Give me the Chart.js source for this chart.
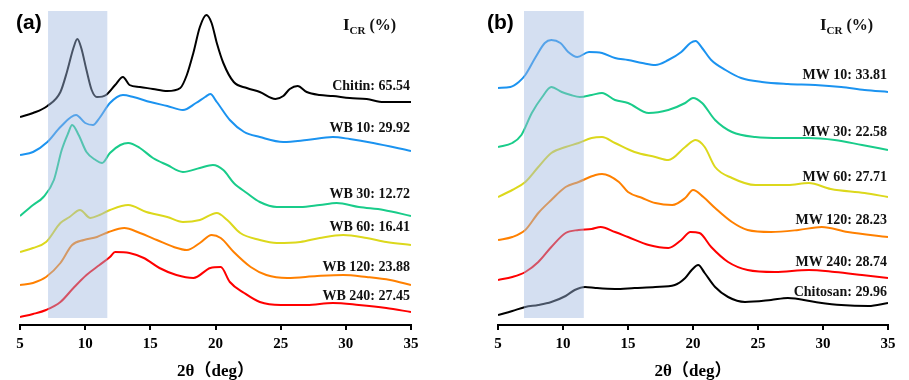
<!DOCTYPE html>
<html>
<head>
<meta charset="utf-8">
<script src="https://cdn.jsdelivr.net/npm/chart.js@4.4.1/dist/chart.umd.min.js"></script>
<style>
  body { margin: 0; background: #fff; }
  #wrap { position: relative; width: 909px; height: 380px; }
  canvas { position: absolute; top: 0; }
</style>
</head>
<body>
<div id="wrap">
  <canvas id="panel_a" width="455" height="380" style="left:0"></canvas>
  <canvas id="panel_b" width="454" height="380" style="left:455px"></canvas>
</div>
<script>
// x ticks (2theta, deg)
var xTicks = [5, 10, 15, 20, 25, 30, 35];

// panel (a) - stacked intensities, [2theta, a.u.]
var namesA = ['Chitin', 'WB 10', 'WB 30', 'WB 60', 'WB 120', 'WB 240'];
var icrA = [65.54, 29.92, 12.72, 16.41, 23.88, 27.45];
var chitin = [[5,208],[6,212],[7.1,219],[8.1,233],[8.6,253],[9.1,277],[9.4,286],[9.7,277],[10.1,255],[10.5,235],[10.9,228],[11.6,230],[12.3,240],[12.9,248],[13.4,240],[14.2,238],[15.2,236],[16.3,234],[17.3,237],[17.8,250],[18.3,272],[18.8,298],[19.3,310],[19.7,302],[20.1,282],[20.6,262],[21.4,243],[22.4,237],[23.4,233],[24.6,226],[25.2,229],[25.7,236],[26.3,239],[27,233],[28,230],[29,229],[30.3,227],[31.6,226],[32.9,223],[35,223]];
var wb10 = [[5,170],[6,173],[7.1,183],[8.1,198],[9.3,210],[10,202],[10.6,200],[11.1,207],[11.9,222],[12.9,230],[13.7,228],[15,223],[16.3,219],[17.5,215],[18.5,222],[19.2,228],[19.6,231],[20.1,223],[21.1,205],[22.2,193],[23.4,188],[25.2,183],[27,185],[29,188],[30.3,186],[32.1,182],[35,174]];
var wb30 = [[5,109],[6,120],[6.8,128],[7.6,145],[8.2,175],[8.7,192],[9,200],[9.5,190],[10.1,173],[10.8,165],[11.3,162],[11.9,172],[12.7,180],[13.3,182],[14.2,177],[15.2,167],[16.3,160],[17.5,153],[18.8,157],[19.8,160],[20.6,155],[21.4,142],[22.4,132],[23.4,123],[24.7,118],[26.5,118],[28,120],[29.3,122],[31,118],[32.9,115],[35,109]];
var wb60 = [[5,73],[6,77],[7,83],[8.1,102],[8.8,108],[9.6,115],[10.4,107],[11.1,110],[11.9,115],[13.3,120],[14.7,113],[16.3,108],[17.5,103],[18.8,105],[20.1,112],[20.9,105],[21.9,92],[23.4,85],[24.7,82],[26.5,83],[28,87],[29.8,90],[31.6,87],[33.1,83],[35,80]];
var wb120 = [[5,40],[6,42],[7,48],[8.1,62],[9,80],[9.9,85],[10.9,88],[11.8,93],[13,97],[14.2,92],[15.5,85],[16.8,78],[17.8,75],[18.8,82],[19.7,90],[20.4,87],[21.4,73],[22.7,58],[23.9,50],[25.5,47],[27.8,49],[29.8,50],[31.6,48],[33.4,45],[35,40]];
var wb240 = [[5,8],[6,11],[7,15],[8.1,23],[9.1,37],[10.1,50],[11.1,60],[11.9,68],[12.3,73],[13.4,72],[14.5,67],[15.7,57],[17,50],[18.3,47],[19.6,57],[20.4,58],[21.1,43],[22.2,32],[23.4,23],[25,20],[27,20],[29,22],[31,20],[33.1,17],[35,13]];

// panel (b)
var namesB = ['MW 10', 'MW 30', 'MW 60', 'MW 120', 'MW 240', 'Chitosan'];
var icrB = [33.81, 22.58, 27.71, 28.23, 28.74, 29.96];
var mw10 = [[5,237],[5.95,238],[6.6,243],[7.1,250],[7.9,268],[8.6,282],[9.1,285],[9.8,282],[10.4,273],[11.1,268],[12,273],[13,272],[14,267],[15,265],[16.1,262],[17.1,260],[18.1,265],[19.1,273],[19.8,282],[20.2,284],[20.7,277],[21.4,265],[22.5,255],[23.7,247],[25.3,243],[27.3,241],[29.4,240],[31.4,238],[33.2,235],[35,233]];
var mw30 = [[5,178],[6.1,182],[6.8,190],[7.6,212],[8.4,228],[9.1,238],[9.9,233],[10.6,230],[11.3,228],[12.2,230],[13,232],[14,225],[15,222],[16.6,212],[18.1,215],[19.4,222],[20,227],[20.7,222],[21.7,205],[23,193],[24.8,188],[26.8,187],[28.9,187],[30.9,185],[33,180],[35,175]];
var mw60 = [[5,128],[6.1,135],[7.1,143],[8.1,158],[9.1,172],[10.2,178],[11.2,182],[12.2,187],[13,188],[14,182],[15.5,173],[17.1,168],[18.1,165],[19.4,178],[20.2,185],[20.9,178],[21.7,158],[23,147],[24.8,140],[27.3,140],[28.9,142],[30.6,136],[33.2,132],[35,128]];
var mw120 = [[5,85],[6.1,88],[7.1,95],[8.1,112],[9.1,125],[10.2,138],[11.2,143],[12.5,150],[13,151],[14.3,143],[15,133],[16.1,127],[17.1,122],[18.4,120],[19.4,127],[20,135],[20.8,128],[21.7,117],[23,103],[24.2,95],[26,93],[28.1,95],[29.9,98],[31.9,93],[35,88]];
var mw240 = [[5,45],[6.1,48],[7.1,53],[8.1,63],[9.1,78],[10.2,92],[11.2,95],[12.2,96],[12.9,98],[14,93],[15,88],[16.6,80],[18.1,77],[19.1,85],[19.8,93],[20.5,92],[21.4,78],[22.7,63],[24.2,55],[26.3,53],[28.9,55],[30.9,53],[33,50],[35,47]];
var chitosan = [[5,10],[6.1,14],[7.1,18],[8.1,20],[9.1,23],[10.2,29],[10.9,35],[11.7,38],[12.5,37],[14,36],[15.5,37],[17.1,38],[18.6,40],[19.4,47],[19.9,55],[20.4,60],[20.9,52],[21.7,38],[22.7,28],[24,23],[26,25],[27.3,27],[29.4,23],[31.4,20],[33.5,19],[35,22]];

// shaded amorphous band (deg)
var bandA = [7.15, 11.7];
var bandB = [7.0, 11.6];

var colorsA = ['#000000', '#1b93f0', '#19cc8a', '#dcd81c', '#ff8000', '#ff0000'];
var colorsB = ['#1b93f0', '#19cc8a', '#dcd81c', '#ff8000', '#ff0000', '#000000'];

var serifBold = 'bold 14px "Liberation Serif", "Times New Roman", serif';

var decorPlugin = {
  id: 'decor',
  afterDatasetsDraw: function(chart, args, opts) {
    var ctx = chart.ctx;
    var xs = chart.scales.x, ys = chart.scales.y;
    var area = chart.chartArea;
    ctx.save();
    // band over the curves
    ctx.fillStyle = 'rgba(160,185,225,0.45)';
    var x0 = xs.getPixelForValue(opts.band[0]);
    var x1 = xs.getPixelForValue(opts.band[1]);
    var yTop = ys.getPixelForValue(314), yBot = ys.getPixelForValue(7);
    ctx.fillRect(x0, yTop, x1 - x0, yBot - yTop);

    // sample labels
    ctx.fillStyle = '#111';
    ctx.font = serifBold;
    ctx.textAlign = 'right';
    ctx.textBaseline = 'middle';
    for (var i = 0; i < opts.names.length; i++) {
      ctx.fillText(opts.names[i] + ': ' + opts.icr[i].toFixed(2), area.right - 1, ys.getPixelForValue(opts.labelY[i]));
    }

    // header I_CR (%)
    ctx.textAlign = 'left';
    ctx.textBaseline = 'alphabetic';
    var hx = area.right - opts.headerRight;
    ctx.font = 'bold 17px "Liberation Serif", serif';
    ctx.fillText('I', hx, 30);
    var w = ctx.measureText('I').width;
    ctx.font = 'bold 11px "Liberation Serif", serif';
    ctx.fillText('CR', hx + w, 34);
    w += ctx.measureText('CR').width;
    ctx.font = 'bold 16px "Liberation Serif", serif';
    ctx.fillText(' (%)', hx + w, 30);

    // panel letter
    ctx.font = 'bold 21px "Liberation Sans", Arial, sans-serif';
    ctx.textBaseline = 'middle';
    ctx.fillStyle = '#000';
    ctx.fillText(opts.letter, opts.letterX, 23);
    ctx.restore();
  }
};

function toPoints(arr) {
  return arr.map(function(p) { return {x: p[0], y: p[1]}; });
}

function makePanel(id, curves, names, icr, colors, pad, decor) {
  var datasets = curves.map(function(c, i) {
    return {
      label: names[i],
      data: toPoints(c),
      borderColor: colors[i],
      borderWidth: 2,
      pointRadius: 0,
      cubicInterpolationMode: 'monotone',
      fill: false
    };
  });
  decor.names = names;
  decor.icr = icr;
  return new Chart(document.getElementById(id), {
    type: 'line',
    data: { datasets: datasets },
    plugins: [decorPlugin],
    options: {
      responsive: false,
      animation: false,
      layout: { padding: pad },
      plugins: {
        legend: { display: false },
        tooltip: { enabled: false },
        decor: decor
      },
      scales: {
        x: {
          type: 'linear',
          min: 5, max: 35,
          afterBuildTicks: function(scale) {
            scale.ticks = xTicks.map(function(v) { return {value: v}; });
          },
          afterFit: function(scale) { scale.height = 55; },
          border: { display: true, color: '#000', width: 2 },
          grid: { display: true, drawOnChartArea: false, drawTicks: true, tickLength: 5, color: '#000', lineWidth: 2 },
          ticks: {
            color: '#000',
            padding: 5,
            maxRotation: 0,
            font: { family: '"Liberation Serif", serif', weight: 'bold', size: 15 }
          },
          title: {
            display: true,
            text: '2θ（deg）',
            color: '#000',
            padding: { top: 0, bottom: -2 },
            font: { family: '"Liberation Serif", "Noto Sans CJK SC", serif', weight: 'bold', size: 17 }
          }
        },
        y: { display: false, min: 0, max: 315 }
      }
    }
  });
}

makePanel('panel_a', [chitin, wb10, wb30, wb60, wb120, wb240], namesA, icrA, colorsA,
  { left: 20, right: 44, top: 10, bottom: 0 },
  { band: bandA, labelY: [239, 197, 131, 98, 58, 29], letter: '(a)', letterX: 16, headerRight: 68 });

makePanel('panel_b', [mw10, mw30, mw60, mw120, mw240, chitosan], namesB, icrB, colorsB,
  { left: 43, right: 21, top: 10, bottom: 0 },
  { band: bandB, labelY: [250, 193, 148, 105, 63, 33], letter: '(b)', letterX: 32, headerRight: 68 });
</script>
</body>
</html>
